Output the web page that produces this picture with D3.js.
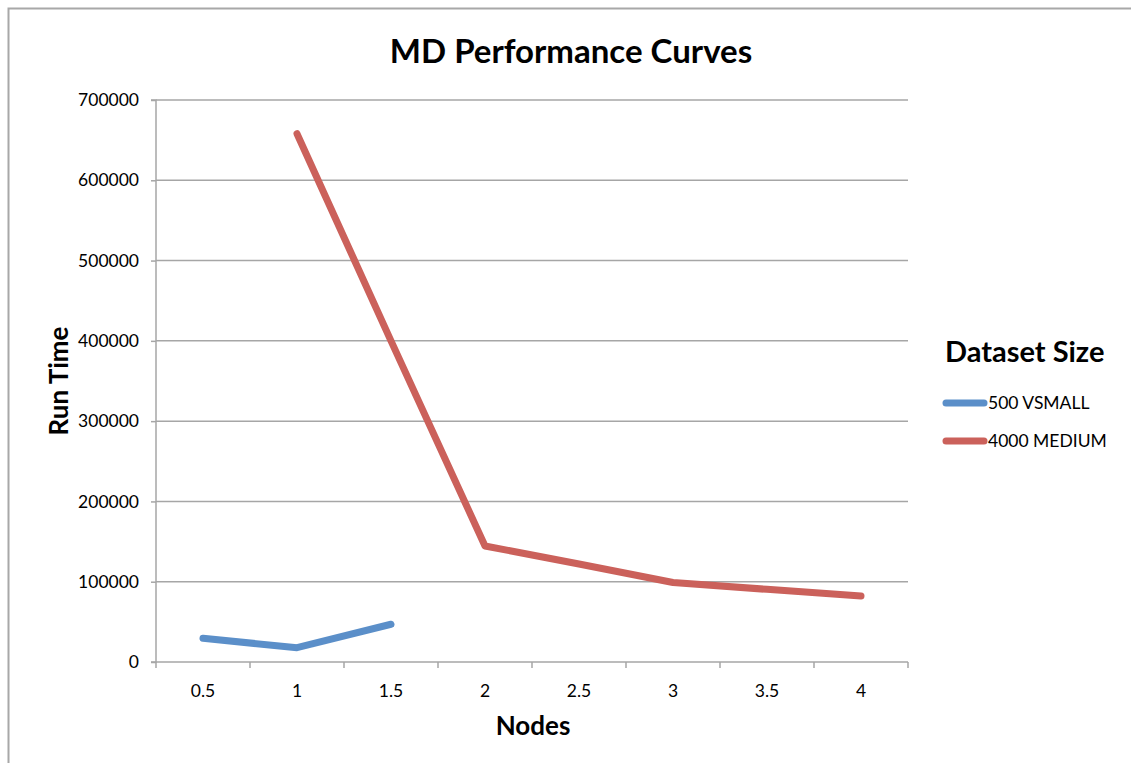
<!DOCTYPE html>
<html><head><meta charset="utf-8">
<script src="https://cdn.jsdelivr.net/npm/d3@7"></script>
<style>body{margin:0;background:#fff;} text{font-family:Lato,"Open Sans",sans-serif;}</style>
</head><body>
<svg id="chart" width="1131" height="763"></svg>
<script>
const categories = ["0.5","1","1.5","2","2.5","3","3.5","4"];
const seriesNames = ["500 VSMALL","4000 MEDIUM"];
const vsmall = [29500, 17800, 47000, null, null, null, null, null];
const medium = [null, 658000, 400000, 144500, 122000, 99000, 90500, 82200];
const yTicks = [0,100000,200000,300000,400000,500000,600000,700000];
const colors = ["#5B8FC9","#CB615B"];

const svg = d3.select("#chart");
const L=156, R=908, T=100, B=662;
// frame
svg.append("path").attr("d","M8.5,763 V8.5 H1131").attr("fill","none").attr("stroke","#a8a8a8").attr("stroke-width",2);

const x = d3.scaleBand().domain(categories).range([L,R]).padding(0);
const y = d3.scaleLinear().domain([0,700000]).range([B,T]);

// gridlines
svg.append("g").selectAll("line").data(yTicks.filter(d=>d>0)).join("line")
  .attr("x1",L).attr("x2",R).attr("y1",d=>y(d)).attr("y2",d=>y(d))
  .attr("stroke","#a6a6a6").attr("stroke-width",1.5);

// y axis
const yAxis = d3.axisLeft(y).tickValues(yTicks).tickSize(5).tickPadding(12).tickFormat(d3.format("d"));
const gy = svg.append("g").attr("transform",`translate(${L},0)`).call(yAxis);
gy.select(".domain").attr("stroke","#a6a6a6").attr("stroke-width",1.5).attr("d",`M-5,${T}H0V${B}H-5`);
gy.selectAll(".tick line").attr("stroke","#a6a6a6").attr("stroke-width",1.5);
gy.selectAll(".tick text").attr("font-size",17.5).attr("fill","#000").attr("font-family","Lato,sans-serif");

// x axis with ticks at category boundaries
const gx = svg.append("g").attr("transform",`translate(0,${B})`);
gx.append("line").attr("x1",L).attr("x2",R).attr("stroke","#a6a6a6").attr("stroke-width",1.5);
const bounds = categories.map(c=>x(c)).concat([R]);
gx.selectAll("line.tk").data(bounds).join("line").attr("class","tk")
  .attr("x1",d=>d).attr("x2",d=>d).attr("y1",0).attr("y2",6)
  .attr("stroke","#a6a6a6").attr("stroke-width",1.5);
gx.selectAll("text").data(categories).join("text")
  .attr("x",d=>x(d)+x.bandwidth()/2).attr("y",35).attr("text-anchor","middle")
  .attr("font-size",17.5).attr("fill","#000").text(d=>d);

// lines
const line = d3.line().defined(d=>d.v!=null).x(d=>x(d.c)+x.bandwidth()/2).y(d=>y(d.v));
[vsmall, medium].forEach((arr,i)=>{
  svg.append("path").datum(categories.map((c,j)=>({c,v:arr[j]})))
    .attr("d",line).attr("fill","none").attr("stroke",colors[i])
    .attr("stroke-width",7).attr("stroke-linecap","round").attr("stroke-linejoin","round");
});

// title
svg.append("text").attr("x",571).attr("y",63).attr("text-anchor","middle")
  .attr("font-size",33).attr("font-weight","bold").text("MD Performance Curves");
// axis titles
svg.append("text").attr("x",533).attr("y",735).attr("text-anchor","middle")
  .attr("font-size",26).attr("font-weight","bold").text("Nodes");
svg.append("text").attr("transform","translate(68,381) rotate(-90)").attr("text-anchor","middle")
  .attr("font-size",26).attr("font-weight","bold").text("Run Time");

// legend
svg.append("text").attr("x",945).attr("y",362).attr("font-size",29).attr("font-weight","bold").text("Dataset Size");
const lg = svg.append("g").selectAll("g").data(seriesNames).join("g")
  .attr("transform",(d,i)=>`translate(0,${403+i*38})`);
lg.append("line").attr("x1",946).attr("x2",984).attr("stroke",(d,i)=>colors[i])
  .attr("stroke-width",7).attr("stroke-linecap","round");
lg.append("text").attr("x",988).attr("y",6).attr("font-size",17.5).text(d=>d);
</script>
</body></html>
